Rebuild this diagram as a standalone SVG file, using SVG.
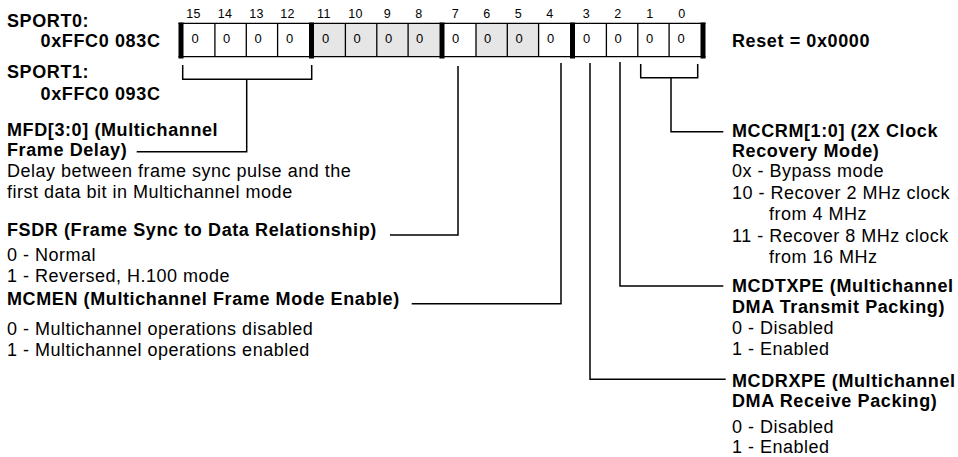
<svg xmlns="http://www.w3.org/2000/svg" width="958" height="457" viewBox="0 0 958 457">
<style>
text{font-family:"Liberation Sans",Arial,Helvetica,sans-serif;fill:#000}
.b{font-size:18px;font-weight:bold;letter-spacing:0.6px}
.r{font-size:18px;letter-spacing:0.5px}
.n{font-size:12.5px;letter-spacing:0.4px;text-anchor:middle}
.d{font-size:13px;text-anchor:middle}
.thin{stroke:#000;stroke-width:1.3;fill:none}
.thick{fill:#000}
.gray{fill:#e6e6e6}
.c{stroke:#000;stroke-width:1.5;fill:none}
</style>
<rect width="958" height="457" fill="#fff"/>
<g id="address">
<text class="b" x="7" y="27">SPORT0:</text>
<text class="b" x="40.5" y="46.5" textLength="120" lengthAdjust="spacing">0xFFC0 083C</text>
<text class="b" x="7" y="77.5">SPORT1:</text>
<text class="b" x="40.5" y="99.5" textLength="120" lengthAdjust="spacing">0xFFC0 093C</text>
<text class="b" x="732" y="46.5">Reset = 0x0000</text>
</g>
<g id="register">
<rect class="gray" x="314" y="23.3" width="125.5" height="33.4"/>
<rect class="gray" x="476" y="23.3" width="62.6" height="33.4"/>
<line class="thin" x1="178.5" y1="23.3" x2="705.5" y2="23.3"/>
<line class="thin" x1="178.5" y1="56.7" x2="705.5" y2="56.7"/>
<path class="thin" d="M214.9 23.3V56.7M246.3 23.3V56.7M277.6 23.3V56.7M345.4 23.3V56.7M376.8 23.3V56.7M408.1 23.3V56.7M476 23.3V56.7M507.3 23.3V56.7M538.6 23.3V56.7M606.4 23.3V56.7M637.8 23.3V56.7M669.1 23.3V56.7"/>
<rect class="thick" x="178.5" y="22.5" width="5" height="36"/>
<rect class="thick" x="309" y="22.5" width="5" height="36"/>
<rect class="thick" x="439.5" y="22.5" width="5" height="36"/>
<rect class="thick" x="570" y="22.5" width="5" height="36"/>
<rect class="thick" x="700.5" y="22.5" width="5" height="36"/>
<g>
<text class="n" x="193.5" y="18.3">15</text>
<text class="n" x="225" y="18.3">14</text>
<text class="n" x="256.5" y="18.3">13</text>
<text class="n" x="287.5" y="18.3">12</text>
<text class="n" x="324" y="18.3">11</text>
<text class="n" x="355.5" y="18.3">10</text>
<text class="n" x="387.5" y="18.3">9</text>
<text class="n" x="419" y="18.3">8</text>
<text class="n" x="455.5" y="18.3">7</text>
<text class="n" x="487" y="18.3">6</text>
<text class="n" x="518.5" y="18.3">5</text>
<text class="n" x="550" y="18.3">4</text>
<text class="n" x="586.5" y="18.3">3</text>
<text class="n" x="618" y="18.3">2</text>
<text class="n" x="650" y="18.3">1</text>
<text class="n" x="682" y="18.3">0</text>
</g>
<g>
<text class="d" x="195" y="42.7">0</text>
<text class="d" x="226.5" y="42.7">0</text>
<text class="d" x="258" y="42.7">0</text>
<text class="d" x="289.5" y="42.7">0</text>
<text class="d" x="325.5" y="42.7">0</text>
<text class="d" x="357" y="42.7">0</text>
<text class="d" x="388.5" y="42.7">0</text>
<text class="d" x="419.5" y="42.7">0</text>
<text class="d" x="455.5" y="42.7">0</text>
<text class="d" x="487.5" y="42.7">0</text>
<text class="d" x="519" y="42.7">0</text>
<text class="d" x="550.5" y="42.7">0</text>
<text class="d" x="586.5" y="42.7">0</text>
<text class="d" x="618" y="42.7">0</text>
<text class="d" x="649.5" y="42.7">0</text>
<text class="d" x="681" y="42.7">0</text>
</g>
</g>
<g id="connectors">
<path class="c" d="M182.7 65V79.3H311.7V65M246.7 79.3V151.7H136.7"/>
<path class="c" d="M458 66V235H390"/>
<path class="c" d="M561 63V303.7H411.7"/>
<path class="c" d="M590 63V379.3H725.7"/>
<path class="c" d="M620 62V286H723.3"/>
<path class="c" d="M640.7 64V77.7H697.7V64M671 77.7V131.7H723.3"/>
</g>
<g id="mfd">
<text class="b" x="7" y="136">MFD[3:0] (Multichannel</text>
<text class="b" x="7" y="156">Frame Delay)</text>
<text class="r" x="7" y="177">Delay between frame sync pulse and the</text>
<text class="r" x="7" y="198">first data bit in Multichannel mode</text>
</g>
<g id="fsdr">
<text class="b" x="7" y="236">FSDR (Frame Sync to Data Relationship)</text>
<text class="r" x="7" y="261.3">0 - Normal</text>
<text class="r" x="7" y="282">1 - Reversed, H.100 mode</text>
</g>
<g id="mcmen">
<text class="b" x="7" y="305.3">MCMEN (Multichannel Frame Mode Enable)</text>
<text class="r" x="7" y="335">0 - Multichannel operations disabled</text>
<text class="r" x="7" y="355.5">1 - Multichannel operations enabled</text>
</g>
<g id="mccrm">
<text class="b" x="732" y="136.7">MCCRM[1:0] (2X Clock</text>
<text class="b" x="732" y="156.7">Recovery Mode)</text>
<text class="r" x="732" y="176.7">0x - Bypass mode</text>
<text class="r" x="732" y="199">10 - Recover 2 MHz clock</text>
<text class="r" x="769" y="220">from 4 MHz</text>
<text class="r" x="732" y="241.7">11 - Recover 8 MHz clock</text>
<text class="r" x="769" y="262.7">from 16 MHz</text>
</g>
<g id="mcdtxpe">
<text class="b" x="732" y="291.7">MCDTXPE (Multichannel</text>
<text class="b" x="732" y="312.7">DMA Transmit Packing)</text>
<text class="r" x="732" y="334">0 - Disabled</text>
<text class="r" x="732" y="355">1 - Enabled</text>
</g>
<g id="mcdrxpe">
<text class="b" x="732" y="386.7">MCDRXPE (Multichannel</text>
<text class="b" x="732" y="407">DMA Receive Packing)</text>
<text class="r" x="732" y="432.5">0 - Disabled</text>
<text class="r" x="732" y="452.5">1 - Enabled</text>
</g>
</svg>
